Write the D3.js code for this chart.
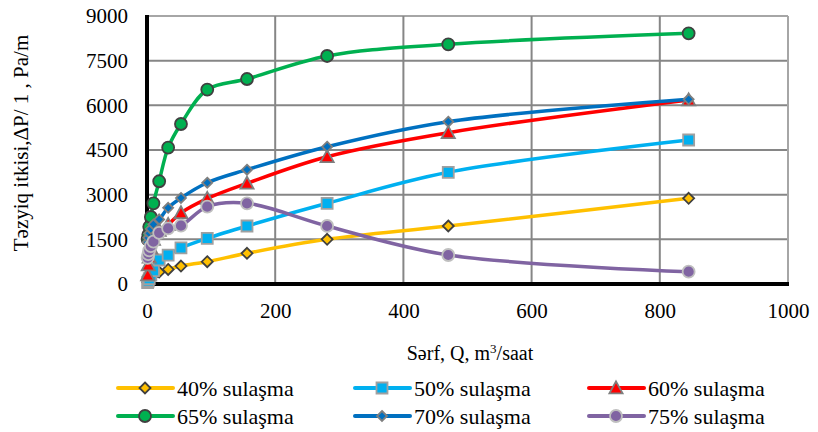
<!DOCTYPE html>
<html>
<head>
<meta charset="utf-8">
<script src="https://cdn.jsdelivr.net/npm/d3@7"></script>
<style>
  html, body { margin: 0; padding: 0; background: #fff; }
</style>
</head>
<body>
<svg id="chart" width="818" height="432"></svg>
<script>
// Flow rate Q (m³/saat) at which pressure loss was measured
const flow = [1, 2, 3.5, 6, 10, 19, 33, 53, 94, 156, 281, 470, 845];

// Pressure loss ΔP/l (Pa/m) for each water-cut level
const cut40 = [60, 110, 170, 230, 300, 400, 490, 604, 749, 1031, 1500, 1948, 2878];
const cut50 = [50, 100, 180, 300, 450, 806, 973, 1210, 1534, 1948, 2710, 3751, 4836];
const cut60 = [300, 640, 900, 1200, 1500, 1800, 2000, 2390, 2870, 3381, 4275, 5081, 6180];
const cut65 = [1500, 1650, 1920, 2250, 2710, 3450, 4580, 5373, 6530, 6884, 7657, 8050, 8419];
const cut70 = [1400, 1550, 1700, 1850, 2000, 2170, 2560, 2890, 3400, 3840, 4611, 5451, 6202];
const cut75 = [880, 1000, 1130, 1270, 1420, 1720, 1868, 1960, 2598, 2710, 1948, 974, 413];

const seriesNames = ["40% sulaşma", "50% sulaşma", "60% sulaşma", "65% sulaşma", "70% sulaşma", "75% sulaşma"];
const xTicks = [0, 200, 400, 600, 800, 1000];
const yTicks = [0, 1500, 3000, 4500, 6000, 7500, 9000];

const styles = [
  { color: "#FFC000", marker: "diamond", size: 11, fill: "#FFC000", stroke: "#404040" },
  { color: "#00B0F0", marker: "square", size: 11, fill: "#00B0F0", stroke: "#A0A0A0" },
  { color: "#FF0000", marker: "triangle", size: 12, fill: "#FF0000", stroke: "#7F7F7F" },
  { color: "#00B050", marker: "circle", size: 6, fill: "#00B050", stroke: "#404040" },
  { color: "#0070C0", marker: "diamond", size: 10, fill: "#0070C0", stroke: "#7F7F7F" },
  { color: "#8064A2", marker: "circle", size: 6, fill: "#8064A2", stroke: "#BFBFBF" }
];

const series = [cut40, cut50, cut60, cut65, cut70, cut75].map((vals, i) => ({
  name: seriesNames[i],
  style: styles[i],
  points: vals.map((v, j) => ({ q: flow[j], p: v }))
}));

// Pick the first installed serif face by comparing canvas text widths
function pickFont(candidates) {
  const ctx = document.createElement("canvas").getContext("2d");
  const sample = "mmmwwwlli 1234567890 Sərf";
  const widthWith = f => { ctx.font = `40px ${f}`; return ctx.measureText(sample).width; };
  for (const name of candidates) {
    const a = widthWith(`"${name}", monospace`), b = widthWith("monospace");
    const c = widthWith(`"${name}", sans-serif`), d = widthWith("sans-serif");
    if (a !== b || c !== d) return `"${name}", serif`;
  }
  return "serif";
}
const FONT = pickFont(["Liberation Serif", "Times New Roman", "Tinos", "DejaVu Serif", "Noto Serif", "FreeSerif"]);

const svg = d3.select("#chart").style("font-family", FONT);
const plotL = 147, plotR = 788, plotT = 16, plotB = 284;

const x = d3.scaleLinear().domain([0, 1000]).range([plotL, plotR]);
const y = d3.scaleLinear().domain([0, 9000]).range([plotB, plotT]);

// Gridlines
const grid = svg.append("g");
grid.selectAll("line.h").data(yTicks.filter(t => t > 0)).join("line")
  .attr("x1", plotL).attr("x2", plotR)
  .attr("y1", d => y(d)).attr("y2", d => y(d))
  .attr("stroke", d => d === 9000 ? "#A6A6A6" : "#868686").attr("stroke-width", 2);
grid.selectAll("line.v").data(xTicks.filter(t => t > 0)).join("line")
  .attr("y1", plotT).attr("y2", plotB)
  .attr("x1", d => x(d)).attr("x2", d => x(d))
  .attr("stroke", d => d === 1000 ? "#A6A6A6" : "#868686").attr("stroke-width", 2);

// Axes drawn with d3 axis generators, then restyled
const xAxis = svg.append("g").attr("transform", `translate(0,${plotB})`)
  .call(d3.axisBottom(x).tickValues(xTicks).tickSize(0).tickPadding(19).tickFormat(d3.format("d")));
const yAxis = svg.append("g").attr("transform", `translate(${plotL},0)`)
  .call(d3.axisLeft(y).tickValues(yTicks).tickSize(0).tickPadding(19).tickFormat(d3.format("d")));
[xAxis, yAxis].forEach(a => {
  a.attr("font-family", null).style("font-family", FONT).attr("font-size", 21);
  a.select(".domain").remove();
  a.selectAll("text").attr("fill", "#000");
});
xAxis.selectAll("text").attr("dy", "0.71em");

svg.append("line").attr("x1", plotL).attr("x2", plotL).attr("y1", plotT - 1).attr("y2", plotB + 2)
  .attr("stroke", "#000").attr("stroke-width", 4);
svg.append("line").attr("x1", plotL - 2).attr("x2", plotR + 1).attr("y1", plotB).attr("y2", plotB)
  .attr("stroke", "#000").attr("stroke-width", 4);

// Marker symbols
function markerPath(style) {
  const s = style.size;
  if (style.marker === "diamond") return `M0,${-s / 2}L${s / 2},0L0,${s / 2}L${-s / 2},0Z`;
  if (style.marker === "square") return `M${-s / 2},${-s / 2}h${s}v${s}h${-s}Z`;
  if (style.marker === "triangle") return `M0,${-s * 0.55}L${s * 0.55},${s * 0.45}L${-s * 0.55},${s * 0.45}Z`;
  return d3.arc()({ innerRadius: 0, outerRadius: s, startAngle: 0, endAngle: 2 * Math.PI });
}

const line = d3.line().x(d => x(d.q)).y(d => y(d.p)).curve(d3.curveCatmullRom.alpha(0.5));

const plot = svg.append("g");
series.forEach(s => {
  const g = plot.append("g");
  g.append("path").attr("d", line(s.points))
    .attr("fill", "none").attr("stroke", s.style.color).attr("stroke-width", 3.5)
    .attr("stroke-linejoin", "round").attr("stroke-linecap", "round");
  g.selectAll("path.m").data(s.points).join("path").attr("class", "m")
    .attr("d", markerPath(s.style))
    .attr("transform", d => `translate(${x(d.q)},${y(d.p)})`)
    .attr("fill", s.style.fill).attr("stroke", s.style.stroke).attr("stroke-width", 1.8);
});

// Axis titles
svg.append("text").attr("x", 470).attr("y", 360).attr("text-anchor", "middle")
  .attr("font-size", 20).attr("fill", "#000")
  .html('Sərf, Q, m<tspan baseline-shift="super" font-size="13">3</tspan>/saat');
svg.append("text").attr("transform", "translate(28,143) rotate(-90)").attr("text-anchor", "middle")
  .attr("font-size", 21).attr("fill", "#000").text("Təzyiq itkisi,ΔP/ 1 , Pa/m");

// Legend
const legendCols = [118, 355, 589];
const legendRows = [388, 416];
series.forEach((s, i) => {
  const lx = legendCols[i % 3], ly = legendRows[Math.floor(i / 3)];
  const g = svg.append("g").attr("transform", `translate(${lx},${ly})`);
  g.append("line").attr("x1", 0).attr("x2", 55).attr("y1", 0).attr("y2", 0)
    .attr("stroke", s.style.color).attr("stroke-width", 4).attr("stroke-linecap", "round");
  g.append("path").attr("d", markerPath(s.style)).attr("transform", "translate(27,0)")
    .attr("fill", s.style.fill).attr("stroke", s.style.stroke).attr("stroke-width", 1.8);
  g.append("text").attr("x", 59).attr("y", 0).attr("dy", "0.35em")
    .attr("font-size", 22).attr("fill", "#000").text(s.name);
});
</script>
</body>
</html>
